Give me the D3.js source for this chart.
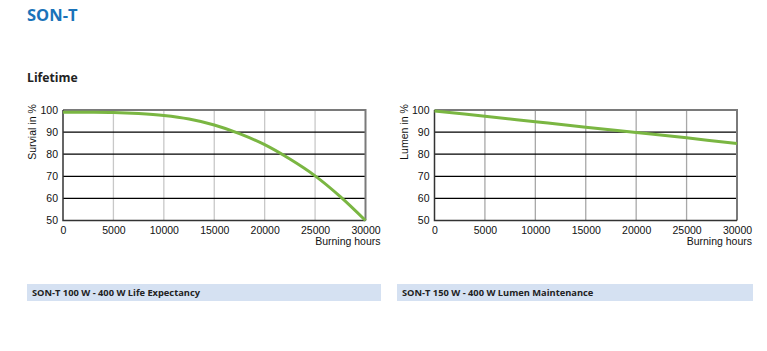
<!DOCTYPE html>
<html><head><meta charset="utf-8">
<script src="https://cdn.jsdelivr.net/npm/d3@7"></script>
<style>
body{margin:0;background:#fff;}
svg{display:block;}
</style></head>
<body>
<svg id="c" width="767" height="351"></svg>
<script>
const xTicks = [0, 5000, 10000, 15000, 20000, 25000, 30000];
const yTicks = [50, 60, 70, 80, 90, 100];
const hours = [0, 2500, 5000, 7500, 10000, 12500, 15000, 17500, 20000, 22500, 25000, 27500, 30000];
const survival = [99, 99, 98.9, 98.4, 97.5, 95.9, 93.2, 89.3, 84.3, 77.8, 70.2, 60.8, 50];
const lumenHours = [0, 5000, 10000, 15000, 20000, 25000, 30000];
const lumen = [99.6, 97.2, 94.7, 92.2, 89.8, 87.4, 84.8];
const panelTitles = ["SON-T 100 W - 400 W Life Expectancy", "SON-T 150 W - 400 W Lumen Maintenance"];
const yLabels = ["Survial in %", "Lumen in %"];
const xLabel = "Burning hours";

const svg = d3.select("#c");
const font = "'Liberation Sans', Arial, sans-serif";
const titleFont = "'Open Sans', 'Noto Sans', sans-serif";

svg.append("text").attr("x", 27).attr("y", 21).text("SON-T")
  .attr("font-family", titleFont).attr("font-weight", "bold").attr("font-size", 16.5)
  .attr("fill", "#1a73b9");
svg.append("text").attr("x", 27).attr("y", 82).text("Lifetime")
  .attr("font-family", titleFont).attr("font-weight", "bold").attr("font-size", 12.2)
  .attr("fill", "#222");

const panels = [
  {x0: 63, x1: 365.5, xs: hours, ys: survival, vgrid: "#c8c8c8", barX: 27, barW: 354},
  {x0: 434.5, x1: 737, xs: lumenHours, ys: lumen, vgrid: "#a8a8a8", barX: 397, barW: 356}
];
const yTop = 110, yBot = 220.5;

panels.forEach((p, i) => {
  const x = d3.scaleLinear().domain([0, 30000]).range([p.x0, p.x1]);
  const y = d3.scaleLinear().domain([50, 100]).range([yBot, yTop]);
  const g = svg.append("g");
  g.selectAll(".vg").data(xTicks.slice(1, -1)).join("line")
    .attr("x1", d => x(d)).attr("x2", d => x(d)).attr("y1", yTop).attr("y2", yBot)
    .attr("stroke", p.vgrid).attr("stroke-width", 1.3);
  g.selectAll(".hg").data(yTicks.slice(1, -1)).join("line")
    .attr("x1", p.x0).attr("x2", p.x1).attr("y1", d => y(d)).attr("y2", d => y(d))
    .attr("stroke", "#000").attr("stroke-width", 1.2);
  g.append("path").attr("d", `M${p.x0},${yTop}H${p.x1}V${yBot}`)
    .attr("fill", "none").attr("stroke", "#7a7a7a").attr("stroke-width", 2);
  g.append("path").attr("d", `M${p.x0},${yTop}V${yBot}H${p.x1}`)
    .attr("fill", "none").attr("stroke", "#333").attr("stroke-width", 1.5);

  const ax = d3.axisBottom(x).tickValues(xTicks).tickSize(0).tickPadding(6).tickFormat(d3.format("d"));
  const axg = g.append("g").attr("transform", `translate(0,${yBot})`).call(ax);
  axg.select(".domain").remove();
  axg.selectAll("text").attr("font-family", font).attr("font-size", 10.5).attr("fill", "#111");
  const ay = d3.axisLeft(y).tickValues(yTicks).tickSize(0).tickPadding(5).tickFormat(d3.format("d"));
  const ayg = g.append("g").attr("transform", `translate(${p.x0},0)`).call(ay);
  ayg.select(".domain").remove();
  ayg.selectAll("text").attr("font-family", font).attr("font-size", 10.5).attr("fill", "#111");

  const data = p.xs.map((h, k) => [h, p.ys[k]]);
  g.append("path").datum(data)
    .attr("d", d3.line().x(d => x(d[0])).y(d => y(d[1])).curve(d3.curveCatmullRom.alpha(0.5)))
    .attr("fill", "none").attr("stroke", "#7ab642").attr("stroke-width", 3);

  g.append("text").attr("transform", `translate(${p.x0 - 27},${yTop + 22}) rotate(-90)`)
    .attr("text-anchor", "middle").text(yLabels[i])
    .attr("font-family", font).attr("font-size", 10.5).attr("fill", "#111");
  g.append("text").attr("x", p.x1 + 15).attr("y", 245).attr("text-anchor", "end")
    .text(xLabel).attr("font-family", font).attr("font-size", 10.5).attr("fill", "#111");

  svg.append("rect").attr("x", p.barX).attr("y", 284).attr("width", p.barW).attr("height", 17)
    .attr("fill", "#d5e1f2");
  svg.append("text").attr("x", p.barX + 5).attr("y", 296).text(panelTitles[i])
    .attr("font-family", titleFont).attr("font-weight", "bold").attr("font-size", 9.3)
    .attr("fill", "#222");
});
</script>
</body></html>
